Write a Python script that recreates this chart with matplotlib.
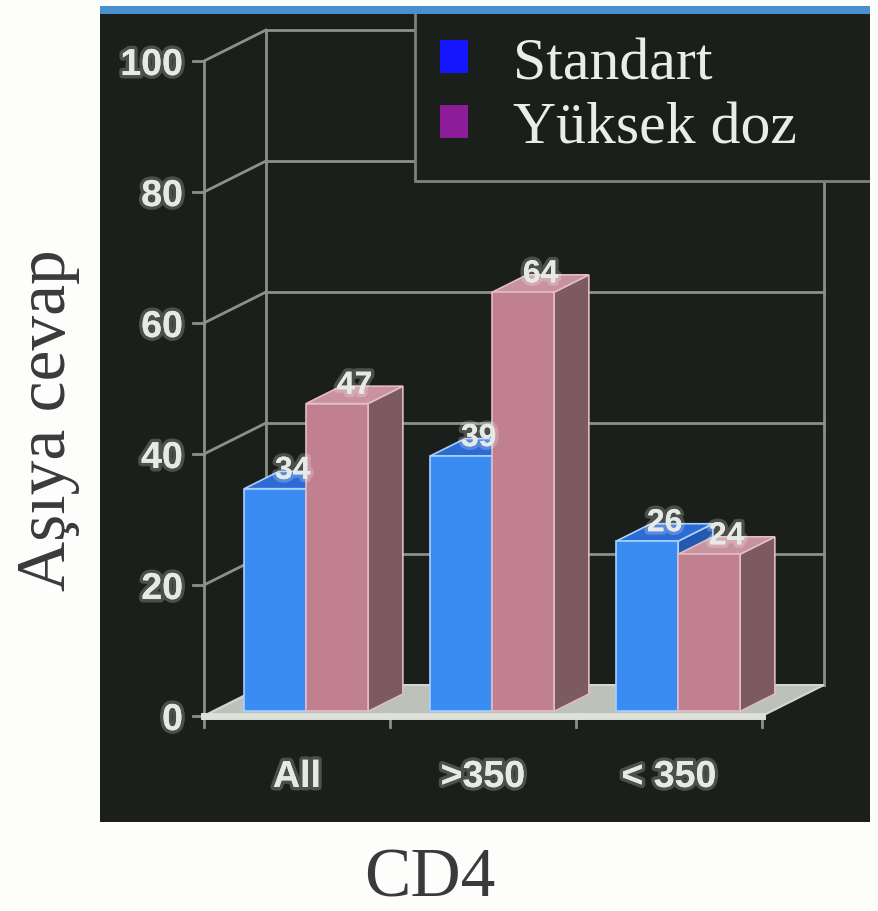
import matplotlib
matplotlib.use("Agg")
import matplotlib.pyplot as plt
from matplotlib.patches import Polygon, Rectangle, Patch
import matplotlib.patheffects as pe

# ---- data ----
categories = ["All", ">350", "< 350"]
series_names = ["Standart", "Yüksek doz"]
standart = [34, 39, 26]
yuksek_doz = [47, 64, 24]
yticks = [0, 20, 40, 60, 80, 100]

# ---- styling ----
BG = "#1a1f1b"
GRID = "#8b908a"
BLUE = dict(front="#3b8cf2", top="#2c6ad4", side="#2459b0", edge="#a9d0ff")
PINK = dict(front="#c0808f", top="#c8929e", side="#7c5a60", edge="#e2bcc6")
TXT = "#e6eae6"
glow = [pe.withStroke(linewidth=5, foreground=(1, 1, 1, 0.22))]

# oblique depth: full wall depth in data units (x, y)
WALL_DX, WALL_DY = 0.333, 4.73
BAR_Z0, BAR_Z1 = 0.15, 0.71
BAR_W = 0.333
X0, X1 = -0.5, len(categories) - 0.5


def shift(x, y, z):
    return x + z * WALL_DX, y + z * WALL_DY


fig = plt.figure(figsize=(8.79, 9.12), dpi=100)
fig.patch.set_facecolor("#fdfdfb")
ax = fig.add_axes([100 / 879, (912 - 823) / 912, 770 / 879, (823 - 15) / 912])
ax.set_facecolor(BG)
ax.set_xlim(-1.059, 3.081)
ax.set_ylim(-16.18, 107.18)
ax.set_xticks([])
ax.set_yticks([])
for s in ax.spines.values():
    s.set_visible(False)

# blue strip across the top of the panel
fig.patches.append(Rectangle((100 / 879, (912 - 15) / 912), 770 / 879, 8 / 912,
                             transform=fig.transFigure, facecolor="#4a8fd0",
                             edgecolor="none"))

# ---- walls and grid ----
bx0, _ = shift(X0, 0, 1)
bx1, _ = shift(X1, 0, 1)
ax.plot([X0, X0], [0, yticks[-1]], color=GRID, lw=2, zorder=1)
ax.plot([bx0, bx0], [WALL_DY, yticks[-1] + WALL_DY], color=GRID, lw=2, zorder=1)
ax.plot([bx1, bx1], [WALL_DY, yticks[-1] + WALL_DY], color=GRID, lw=2, zorder=1)
for v in yticks:
    ax.plot([X0, bx0], [v, v + WALL_DY], color=GRID, lw=2, zorder=1)
    ax.plot([bx0, bx1], [v + WALL_DY, v + WALL_DY], color=GRID, lw=2, zorder=1)
    ax.plot([X0 - 0.06, X0], [v, v], color=GRID, lw=2, zorder=1)
    ax.text(X0 - 0.113, v, str(v), ha="right", va="center_baseline",
            fontsize=27, fontweight="bold", family="Liberation Sans",
            color=TXT, path_effects=glow, zorder=5)

# floor
floor = Polygon([(X0, 0), (X1, 0), (bx1, WALL_DY), (bx0, WALL_DY)], closed=True,
                facecolor="#bcc1b9", edgecolor="#d3d7cf", lw=1.5, zorder=2)
ax.add_patch(floor)
ax.plot([X0, X1], [0, 0], color="#dde1da", lw=5, zorder=2.5)
for b in range(len(categories) + 1):
    ax.plot([X0 + b, X0 + b], [0, -1.6], color=GRID, lw=2, zorder=2)


def draw_bar(x0, x1, h, c, z):
    fx0, fy0 = shift(x0, 0, BAR_Z0)
    fx1, _ = shift(x1, 0, BAR_Z0)
    _, fh = shift(x0, h, BAR_Z0)
    qx0, qy0 = shift(x0, 0, BAR_Z1)
    qx1, _ = shift(x1, 0, BAR_Z1)
    _, qh = shift(x0, h, BAR_Z1)
    front = [(fx0, fy0), (fx1, fy0), (fx1, fh), (fx0, fh)]
    top = [(fx0, fh), (fx1, fh), (qx1, qh), (qx0, qh)]
    side = [(fx1, fy0), (qx1, qy0), (qx1, qh), (fx1, fh)]
    for pts, col in ((side, c["side"]), (top, c["top"]), (front, c["front"])):
        ax.add_patch(Polygon(pts, closed=True, facecolor=col,
                             edgecolor=c["edge"], lw=1.2, zorder=z))
    mx, my = shift((x0 + x1) / 2, h, (BAR_Z0 + BAR_Z1) / 2)
    ax.text(mx, my + 1.4, f"{h:g}", ha="center", va="center",
            fontsize=23, fontweight="bold", family="Liberation Sans",
            color=TXT, path_effects=glow, zorder=z + 0.5)


for i, (a, b) in enumerate(zip(standart, yuksek_doz)):
    draw_bar(i - BAR_W, i, a, BLUE, 3 + i)
    draw_bar(i, i + BAR_W, b, PINK, 3.2 + i)
    ax.text(i, -9.3, categories[i], ha="center", va="center",
            fontsize=27, fontweight="bold", family="Liberation Sans",
            color=TXT, path_effects=glow, zorder=5)

# legend box
lx, ly = (415 - 297) / 186, (717 - 182) / 6.55
ax.add_patch(Rectangle((lx, ly), 3.2 - lx, 120 - ly, facecolor=BG,
                       edgecolor="#7d827c", lw=2, zorder=8))
handles = [Patch(facecolor="#1717ff", edgecolor="none"),
           Patch(facecolor="#8c1c98", edgecolor="none")]
leg = ax.legend(handles, series_names, loc="upper left",
                bbox_to_anchor=(440 / 879, 1 - 38 / 912),
                bbox_transform=fig.transFigure, frameon=False,
                prop=dict(family="Liberation Serif", size=43),
                labelcolor="#ecece6", handlelength=0.47, handleheight=0.47,
                handletextpad=0.75, labelspacing=0.18, borderpad=0,
                borderaxespad=0)
leg.set_zorder(9)

# axis titles
fig.text(48 / 879, 1 - 420 / 912, "Aşıya cevap", rotation=90, ha="center",
         va="center", fontsize=50, family="Liberation Serif", color="#3a3a3a")
fig.text(430 / 879, 1 - 880 / 912, "CD4", ha="center", va="center",
         fontsize=50, family="Liberation Serif", color="#3a3a3a")

fig.savefig("out.png", dpi=100, facecolor=fig.get_facecolor())
